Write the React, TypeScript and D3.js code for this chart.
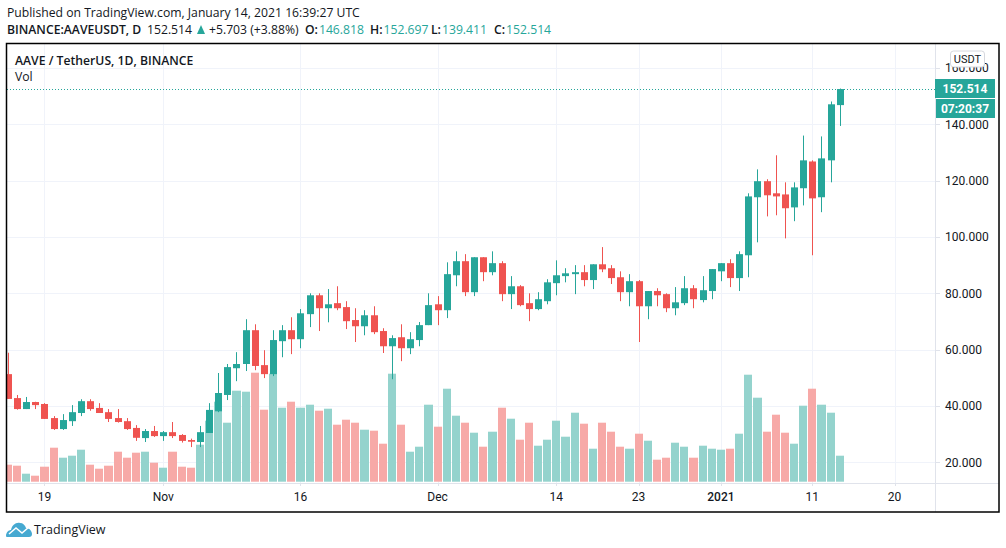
import { useEffect, useRef } from 'react'
import * as d3 from 'd3'

const WIDTH = 1006
const HEIGHT = 548

// daily candles, first one is 15 Oct 2020
const firstDay = new Date(Date.UTC(2020, 9, 15))

const opens = [
  51.3, 42.8, 38.9, 41.4, 40.7, 35.7, 31.8, 34.6, 37.5, 41.7, 39.3, 37.8, 35.7, 34.6, 32.2, 28.6,
  31.1, 29.3, 30.7, 29.7, 27.9, 27.2, 30.4, 38.1, 43.9, 53.4, 54.9, 66.9, 54.5, 51.3, 63.0, 66.9,
  63.7, 72.6, 79.3, 74.7, 76.5, 75.1, 70.5, 68.3, 72.2, 66.6, 61.2, 64.4, 60.5, 63.4, 68.7, 76.1,
  74.0, 86.4, 91.4, 80.4, 92.8, 87.5, 90.7, 79.7, 82.5, 76.5, 74.4, 77.2, 83.6, 86.1, 86.8, 87.5,
  84.7, 90.3, 88.9, 85.7, 80.4, 84.3, 75.4, 80.8, 79.7, 74.7, 76.5, 81.8, 77.6, 80.8, 87.8, 90.7,
  85.4, 93.5, 114.1, 119.8, 115.5, 115.1, 110.5, 117.3, 126.8, 114.1, 127.2, 146.818,
]
const highs = [
  58.9, 43.9, 43.2, 41.5, 41.0, 36.4, 37.1, 40.3, 42.4, 42.4, 41.0, 38.9, 38.9, 35.7, 33.2, 31.8,
  32.9, 31.1, 34.3, 30.0, 28.4, 32.9, 41.0, 51.7, 54.9, 59.1, 70.8, 69.0, 59.8, 66.9, 68.7, 71.5,
  74.4, 80.0, 80.0, 81.5, 82.5, 77.2, 74.7, 74.0, 75.4, 67.6, 65.1, 69.0, 66.2, 69.8, 80.0, 79.0,
  91.0, 94.9, 93.9, 92.8, 92.8, 94.9, 91.4, 86.1, 82.9, 80.0, 80.4, 85.0, 91.7, 88.9, 90.0, 90.0,
  90.3, 96.4, 90.0, 87.8, 86.8, 84.7, 80.8, 81.8, 80.0, 82.2, 86.1, 82.9, 86.1, 88.6, 90.7, 92.1,
  94.9, 115.5, 124.0, 120.5, 129.0, 119.4, 119.4, 136.0, 127.2, 135.7, 148.1, 152.697,
]
const lows = [
  42.5, 38.7, 38.9, 38.9, 35.4, 31.5, 31.5, 32.9, 36.4, 38.3, 37.5, 34.3, 34.1, 31.5, 27.6, 27.2,
  29.0, 27.6, 28.6, 27.0, 25.4, 25.4, 30.4, 37.8, 42.1, 48.8, 52.4, 52.7, 49.9, 50.6, 57.3, 58.4,
  60.5, 68.0, 66.6, 69.7, 74.0, 67.3, 62.7, 65.1, 65.5, 58.8, 49.5, 55.9, 58.4, 61.2, 68.7, 68.7,
  71.2, 82.5, 79.0, 79.0, 84.3, 86.4, 77.2, 74.4, 75.4, 70.1, 74.0, 76.1, 79.3, 83.9, 79.7, 82.5,
  81.5, 87.5, 83.3, 77.2, 75.4, 62.7, 70.8, 75.4, 73.3, 72.2, 75.8, 74.7, 76.8, 77.9, 84.3, 82.2,
  80.8, 85.7, 98.1, 107.3, 107.7, 99.5, 105.6, 111.2, 93.5, 108.8, 119.4, 139.411,
]
const closes = [
  42.5, 38.9, 41.4, 40.3, 35.4, 31.8, 35.0, 37.8, 41.7, 38.9, 37.5, 35.4, 34.3, 31.8, 28.7, 31.1,
  29.3, 30.7, 29.3, 27.6, 27.3, 30.7, 38.6, 44.6, 53.8, 54.9, 66.9, 54.2, 51.3, 63.4, 66.9, 63.7,
  72.9, 79.3, 74.7, 76.1, 74.7, 70.1, 68.3, 72.2, 66.2, 61.2, 64.1, 60.5, 63.7, 68.7, 75.8, 74.0,
  86.8, 91.4, 80.4, 92.8, 87.5, 90.7, 79.7, 82.5, 75.8, 74.4, 77.9, 83.9, 86.4, 87.1, 87.5, 84.7,
  90.3, 88.5, 85.4, 80.4, 84.3, 75.4, 80.8, 79.3, 74.7, 76.8, 81.8, 77.9, 81.1, 88.6, 90.7, 85.4,
  93.9, 114.4, 119.8, 114.8, 114.4, 110.2, 117.6, 127.2, 113.7, 127.9, 147.1, 152.514,
]
// no volume axis on the chart, so these are relative heights
const volumes = [
  17, 16, 8, 6, 15, 34, 24, 26, 32, 17, 13, 16, 30, 24, 29, 30,
  19, 14, 30, 15, 14, 37, 61, 80, 59, 91, 90, 109, 72, 108, 74, 80,
  74, 77, 71, 73, 57, 62, 59, 52, 51, 38, 108, 57, 30, 35, 77, 55,
  93, 66, 59, 49, 35, 50, 74, 63, 42, 59, 36, 42, 61, 45, 69, 58,
  33, 59, 50, 35, 33, 48, 41, 22, 24, 39, 35, 24, 36, 33, 32, 33,
  48, 107, 84, 50, 67, 49, 38, 76, 93, 77, 69, 26,
]

const priceTicks = [20, 40, 60, 80, 100, 120, 140, 160]
const timeTicks: [Date, string, boolean][] = [
  [new Date(Date.UTC(2020, 9, 19)), '19', false],
  [new Date(Date.UTC(2020, 10, 1)), 'Nov', false],
  [new Date(Date.UTC(2020, 10, 16)), '16', false],
  [new Date(Date.UTC(2020, 11, 1)), 'Dec', false],
  [new Date(Date.UTC(2020, 11, 14)), '14', false],
  [new Date(Date.UTC(2020, 11, 23)), '23', false],
  [new Date(Date.UTC(2021, 0, 1)), '2021', true],
  [new Date(Date.UTC(2021, 0, 11)), '11', false],
  [new Date(Date.UTC(2021, 0, 20)), '20', false],
]

const lastPrice = 152.514
const countdown = '07:20:37'
const ohlcLabels = [
  ['O:', '146.818'],
  ['H:', '152.697'],
  ['L:', '139.411'],
  ['C:', '152.514'],
]

const UP = '#26a69a'
const DOWN = '#ef5350'
const UP_VOL = '#94d3cd'
const DOWN_VOL = '#f7a9a7'
const GRID = '#f0f3fa'
const TEXT = '#131722'
const FONT = '"Open Sans", sans-serif'
const AXIS_FONT = 'Roboto, sans-serif'

export default function App() {
  const svgRef = useRef<SVGSVGElement>(null)

  useEffect(() => {
    if (!svgRef.current) return
    const svg = d3.select(svgRef.current)
    svg.selectAll('*').remove()

    const plot = { left: 7, right: 935, top: 44, bottom: 483 }

    const x = d3
      .scaleUtc()
      .domain([new Date(Date.UTC(2020, 10, 1)), new Date(Date.UTC(2021, 0, 11))])
      .range([163.3, 812.3])
    const y = d3.scaleLinear().domain([20, 140]).range([462.3, 124.3])
    const vol = d3.scaleLinear().domain([0, 100]).range([481.7, 381.7])

    const candles = closes.map((close, i) => ({
      date: d3.utcDay.offset(firstDay, i),
      open: opens[i],
      high: highs[i],
      low: lows[i],
      close,
      volume: volumes[i],
      up: close >= opens[i],
    }))

    svg.append('rect').attr('width', WIDTH).attr('height', HEIGHT).attr('fill', '#fff')

    svg
      .append('clipPath')
      .attr('id', 'plot-clip')
      .append('rect')
      .attr('x', plot.left)
      .attr('y', plot.top)
      .attr('width', plot.right - plot.left)
      .attr('height', plot.bottom - plot.top)

    // Grid
    svg
      .append('g')
      .selectAll('line')
      .data(priceTicks)
      .enter()
      .append('line')
      .attr('x1', plot.left)
      .attr('x2', plot.right)
      .attr('y1', (d) => Math.round(y(d)) + 0.5)
      .attr('y2', (d) => Math.round(y(d)) + 0.5)
      .attr('stroke', GRID)
    svg
      .append('g')
      .selectAll('line')
      .data(timeTicks)
      .enter()
      .append('line')
      .attr('x1', (d) => Math.round(x(d[0])) + 0.5)
      .attr('x2', (d) => Math.round(x(d[0])) + 0.5)
      .attr('y1', plot.top)
      .attr('y2', plot.bottom)
      .attr('stroke', GRID)

    const chart = svg.append('g').attr('clip-path', 'url(#plot-clip)')

    // Volume, one pixel gap between neighbours
    const barLeft = (date: Date) => Math.round(x(date)) - 4
    chart
      .append('g')
      .selectAll('rect')
      .data(candles)
      .enter()
      .append('rect')
      .attr('x', (d) => barLeft(d.date))
      .attr('width', (d) => barLeft(d3.utcDay.offset(d.date, 1)) - barLeft(d.date) - 1)
      .attr('y', (d) => vol(d.volume))
      .attr('height', (d) => vol(0) - vol(d.volume))
      .attr('fill', (d) => (d.up ? UP_VOL : DOWN_VOL))

    // Last price line
    const lastY = Math.floor(y(lastPrice)) + 0.5
    svg
      .append('line')
      .attr('x1', plot.left)
      .attr('x2', plot.right)
      .attr('y1', lastY)
      .attr('y2', lastY)
      .attr('stroke', UP)
      .attr('stroke-dasharray', '1 2')

    // Candles
    const candle = chart.append('g').selectAll('g').data(candles).enter().append('g')
    candle
      .append('line')
      .attr('x1', (d) => Math.round(x(d.date)) + 0.5)
      .attr('x2', (d) => Math.round(x(d.date)) + 0.5)
      .attr('y1', (d) => y(d.high))
      .attr('y2', (d) => y(d.low))
      .attr('stroke', (d) => (d.up ? UP : DOWN))
    candle
      .append('rect')
      .attr('x', (d) => Math.round(x(d.date)) - 3)
      .attr('width', 7)
      .attr('y', (d) => y(Math.max(d.open, d.close)))
      .attr('height', (d) => Math.max(1, Math.abs(y(d.open) - y(d.close))))
      .attr('fill', (d) => (d.up ? UP : DOWN))

    // Axis lines and ticks
    svg
      .append('line')
      .attr('x1', plot.right + 0.5)
      .attr('x2', plot.right + 0.5)
      .attr('y1', plot.top)
      .attr('y2', 512)
      .attr('stroke', '#e0e3eb')
    svg
      .append('line')
      .attr('x1', plot.left)
      .attr('x2', WIDTH - 7)
      .attr('y1', plot.bottom + 0.5)
      .attr('y2', plot.bottom + 0.5)
      .attr('stroke', '#e0e3eb')

    const priceAxis = svg.append('g').selectAll('g').data(priceTicks).enter().append('g')
    priceAxis
      .append('line')
      .attr('x1', plot.right)
      .attr('x2', plot.right + 5)
      .attr('y1', (d) => Math.round(y(d)) + 0.5)
      .attr('y2', (d) => Math.round(y(d)) + 0.5)
      .attr('stroke', '#e0e3eb')
    priceAxis
      .append('text')
      .attr('x', 945)
      .attr('y', (d) => y(d) + 4.5)
      .attr('fill', TEXT)
      .style('font-family', AXIS_FONT)
      .style('font-size', '12px')
      .text((d) => d3.format('.3f')(d))

    const timeAxis = svg.append('g').selectAll('g').data(timeTicks).enter().append('g')
    timeAxis
      .append('line')
      .attr('x1', (d) => Math.round(x(d[0])) + 0.5)
      .attr('x2', (d) => Math.round(x(d[0])) + 0.5)
      .attr('y1', plot.bottom)
      .attr('y2', plot.bottom + 3)
      .attr('stroke', '#e0e3eb')
    timeAxis
      .append('text')
      .attr('x', (d) => x(d[0]))
      .attr('y', 501)
      .attr('text-anchor', 'middle')
      .attr('fill', TEXT)
      .style('font-family', AXIS_FONT)
      .style('font-size', '12px')
      .style('font-weight', (d) => (d[2] ? 500 : 400))
      .text((d) => d[1])

    // Price badges
    svg.append('rect').attr('x', 935).attr('y', 79).attr('width', 60).attr('height', 19).attr('fill', UP)
    svg.append('rect').attr('x', 936).attr('y', 99).attr('width', 59).attr('height', 19).attr('fill', UP)
    svg
      .append('text')
      .attr('x', 965)
      .attr('y', 93)
      .attr('text-anchor', 'middle')
      .attr('fill', '#fff')
      .style('font-family', AXIS_FONT)
      .style('font-size', '12px')
      .style('font-weight', 700)
      .text(d3.format('.3f')(lastPrice))
    svg
      .append('text')
      .attr('x', 965)
      .attr('y', 113)
      .attr('text-anchor', 'middle')
      .attr('fill', '#fff')
      .style('font-family', AXIS_FONT)
      .style('font-size', '12px')
      .style('font-weight', 700)
      .text(countdown)

    // Currency box, sits on top of the 160 label like the original
    svg
      .append('rect')
      .attr('x', 950.5)
      .attr('y', 51)
      .attr('width', 34)
      .attr('height', 16)
      .attr('rx', 3)
      .attr('fill', '#fff')
      .attr('stroke', '#d6d8de')
    svg
      .append('text')
      .attr('x', 967.5)
      .attr('y', 63)
      .attr('text-anchor', 'middle')
      .attr('fill', TEXT)
      .style('font-family', AXIS_FONT)
      .style('font-size', '11px')
      .text('USDT')

    // Frame
    svg
      .append('rect')
      .attr('x', 6.5)
      .attr('y', 43.5)
      .attr('width', 992.5)
      .attr('height', 468.5)
      .attr('fill', 'none')
      .attr('stroke', '#000')
      .attr('stroke-width', 1.5)

    // Legend in the pane
    svg
      .append('text')
      .attr('x', 15)
      .attr('y', 65)
      .attr('fill', TEXT)
      .style('font-family', FONT)
      .style('font-size', '12.2px')
      .style('font-weight', 600)
      .text('AAVE / TetherUS, 1D, BINANCE')
    svg
      .append('text')
      .attr('x', 15)
      .attr('y', 81)
      .attr('fill', TEXT)
      .style('font-family', FONT)
      .style('font-size', '12.2px')
      .text('Vol')

    // Header
    svg
      .append('text')
      .attr('x', 7)
      .attr('y', 17)
      .attr('fill', TEXT)
      .style('font-family', FONT)
      .style('font-size', '12.2px')
      .text('Published on TradingView.com, January 14, 2021 16:39:27 UTC')

    const header = svg
      .append('text')
      .attr('x', 7)
      .attr('y', 34)
      .attr('fill', TEXT)
      .style('font-family', FONT)
      .style('font-size', '12.2px')
    header.append('tspan').style('font-weight', 600).text('BINANCE:AAVEUSDT, D')
    header.append('tspan').attr('x', 147).text('152.514')
    header.append('tspan').attr('x', 209).text('+5.703 (+3.88%)')
    const labelStarts = [305, 370, 431, 494]
    ohlcLabels.forEach(([label, value], i) => {
      header.append('tspan').attr('x', labelStarts[i]).style('font-weight', 600).text(label)
      header.append('tspan').attr('dx', 1).attr('fill', UP).text(value)
    })
    svg.append('path').attr('d', 'M197 34 L201 25 L205 34 Z').attr('fill', UP)

    // Logo
    const logo = svg.append('g').attr('transform', 'translate(6,522)')
    logo
      .append('path')
      .attr('d', 'M0 14 C0 10 3 8 5 8 C6 3 10 0 14 1 C17 1 19 3 20 6 C24 6 26 10 26 12 C26 14 25 15 23 15 L2 15 C1 15 0 15 0 14 Z')
      .attr('fill', '#46a9d1')
    logo
      .append('path')
      .attr('d', 'M3 12 L10 6 L16 11 L23 5')
      .attr('fill', 'none')
      .attr('stroke', '#fff')
      .attr('stroke-width', 1.6)
    svg
      .append('text')
      .attr('x', 34)
      .attr('y', 534)
      .attr('fill', TEXT)
      .style('font-family', FONT)
      .style('font-size', '12.5px')
      .text('TradingView')
  }, [])

  return <svg ref={svgRef} width={WIDTH} height={HEIGHT} style={{ position: 'absolute', left: 0, top: 0 }} />
}
